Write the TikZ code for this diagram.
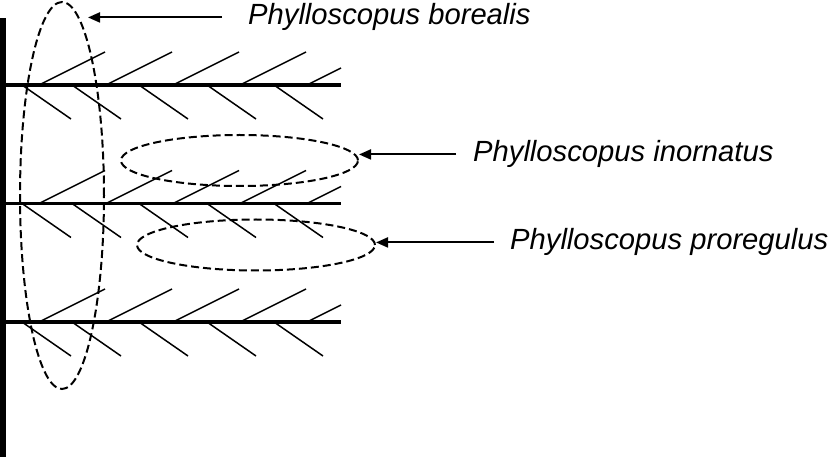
\documentclass[tikz,border=0pt]{standalone}
\usepackage{fontspec}
\setmainfont{Liberation Sans}
\usetikzlibrary{arrows.meta}
\usetikzlibrary{shapes.geometric}

\begin{document}
\begin{tikzpicture}[x=1pt,y=-1pt,
    branch/.style={line width=3.2pt},
    barb/.style={line width=1.5pt},
    rangeoval/.style={draw,ellipse,dash pattern=on 8pt off 4pt,line width=2pt,inner sep=0pt},
    arr/.style={line width=2pt,-{Triangle[length=12pt,width=10pt]}},
    species/.style={font=\fontsize{29.2}{35}\selectfont\itshape,inner sep=0pt,anchor=base west}]
    \useasboundingbox (0,0) rectangle (828,457);
    % trunk
    \fill (0,18) rectangle (6,457);
    % branches with barbs
    \foreach \y in {85,203.5,322} {
        \draw[branch] (5,\y) -- (341,\y);
        \foreach \x in {39,106,173,240} \draw[barb] (\x,\y) -- ++(66,-33);
        \draw[barb] (307,\y) -- ++(34,-17);
        \foreach \x in {22,72,139,207,274} \draw[barb] (\x,\y) -- ++(49,34);
    }
    % ranges
    \node[rangeoval,minimum width=84pt,minimum height=387pt] (borealis) at (62,195.5) {};
    \node[rangeoval,minimum width=237pt,minimum height=51pt] (inornatus) at (239.5,160.5) {};
    \node[rangeoval,minimum width=238pt,minimum height=51pt] (proregulus) at (256,245) {};
    % labels
    \node[species] (lblB) at (248,25) {Phylloscopus borealis};
    \node[species] (lblI) at (473,162) {Phylloscopus inornatus};
    \node[species] (lblP) at (510,250) {Phylloscopus proregulus};
    \coordinate (tipB) at (88,17);
    \draw[arr,shorten <=26pt] (lblB.west) -- (tipB |- lblB.west);
    \draw[arr,shorten <=17pt] (lblI.west) -- (inornatus.east |- lblI.west);
    \draw[arr,shorten <=16pt] (lblP.west) -- (proregulus.east |- lblP.west);
\end{tikzpicture}
\end{document}
